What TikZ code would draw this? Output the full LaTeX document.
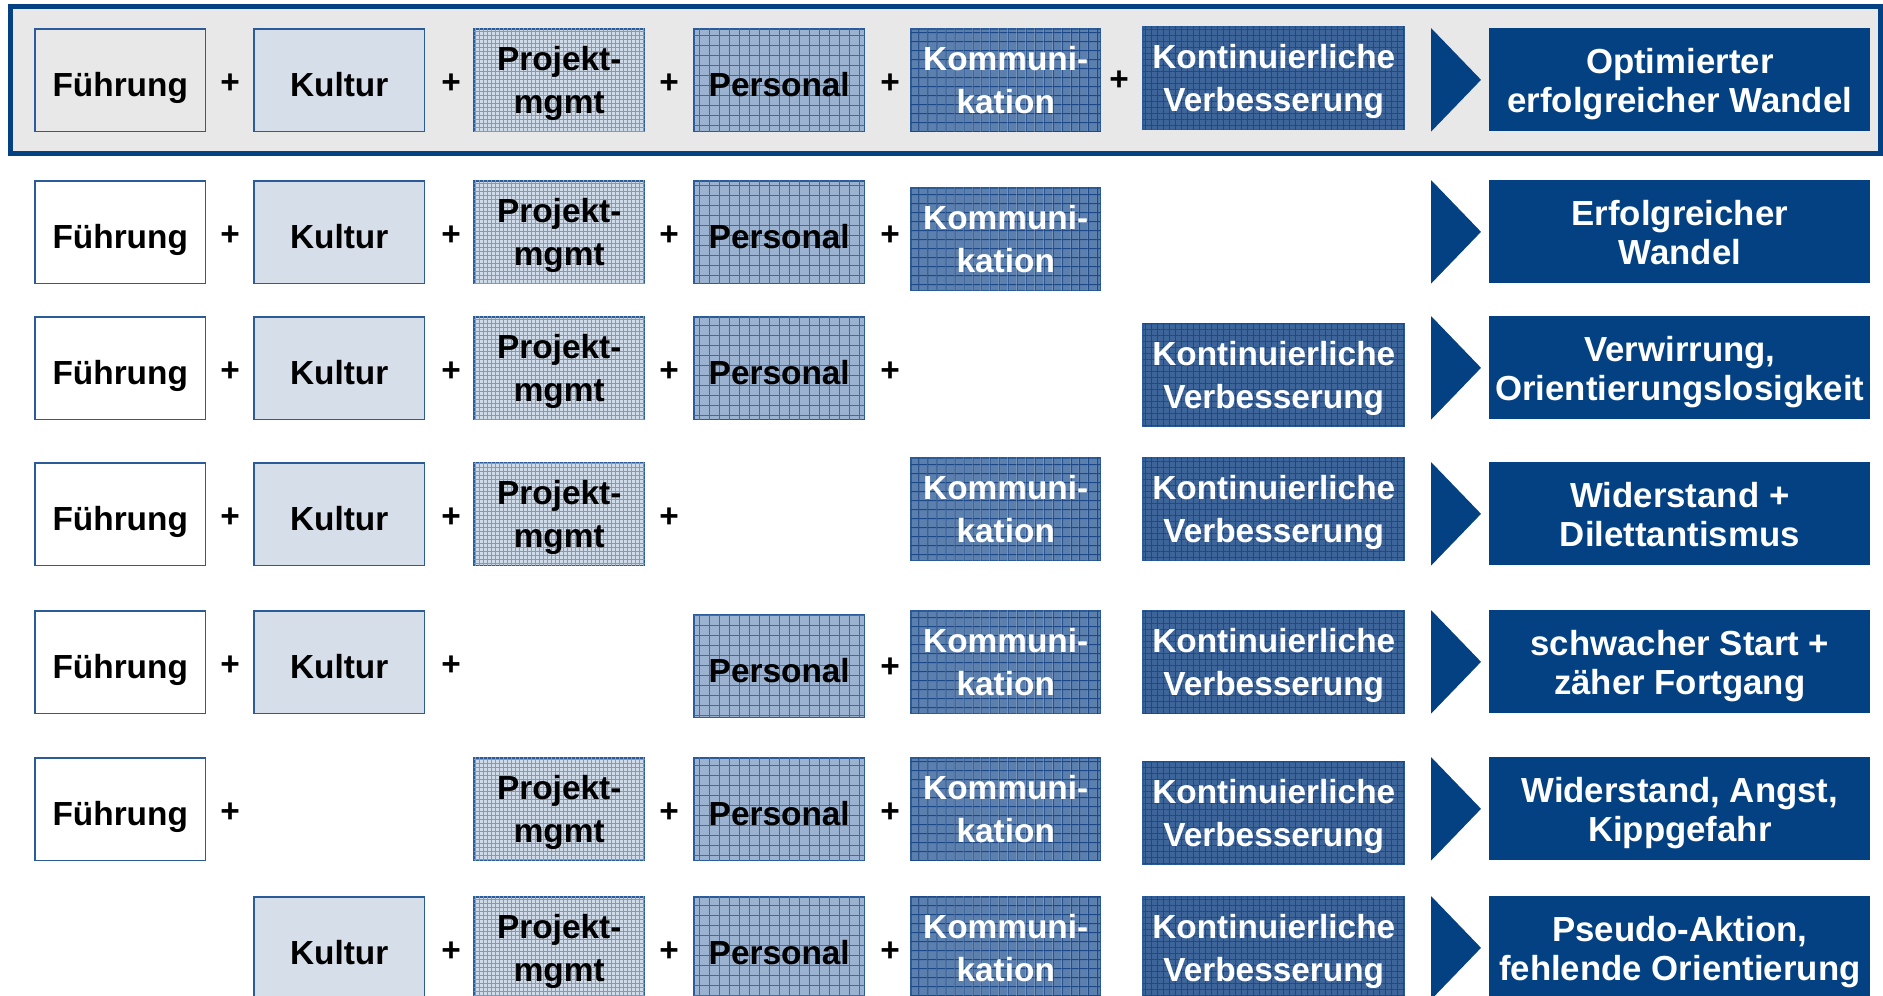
\documentclass[tikz,border=0pt]{standalone}
\usepackage{fontspec}
\setmainfont{Liberation Sans}
\usetikzlibrary{calc,patterns.meta}

\definecolor{navy}{RGB}{3,65,130}
\definecolor{edge}{RGB}{43,92,153}
\definecolor{panel}{RGB}{232,232,232}
\definecolor{cKult}{RGB}{214,222,234}
\definecolor{cProj}{RGB}{208,219,234}
\definecolor{gProj}{RGB}{125,154,198}
\definecolor{cPers}{RGB}{155,178,208}
\definecolor{gPers}{RGB}{70,106,162}
\definecolor{cKomm}{RGB}{92,128,174}
\definecolor{gKomm}{RGB}{28,72,136}
\definecolor{cKV}{RGB}{62,101,153}
\definecolor{gKV}{RGB}{32,72,130}

\begin{document}
\begin{tikzpicture}[x=0.02cm,y=-0.02cm,
  every node/.style={font=\bfseries\fontsize{19pt}{23pt}\selectfont, inner sep=0pt},
  % struts fix the vertical placement of one- and two-line labels
  one/.style={align=center, execute at begin node={\rule{0pt}{22pt}}, execute at end node={\rule[-4pt]{0pt}{4pt}}},
  two/.style={align=center, font=\bfseries\fontsize{19pt}{24.7pt}\selectfont,
    execute at begin node={\rule{0pt}{42pt}}, execute at end node={\rule[-4pt]{0pt}{4pt}}},
  grid/.style 2 args={
    postaction={pattern={Lines[angle=0,distance=#1,line width=0.02cm]}, pattern color=#2},
    postaction={pattern={Lines[angle=90,distance=#1,line width=0.02cm]}, pattern color=#2}},
  box/.style={draw=edge, line width=0.03cm, anchor=north west, minimum width=3.42cm, minimum height=2.06cm},
  fuehr/.style={box, one},
  kult/.style={box, one, fill=cKult},
  proj/.style={box, two, fill=cProj, grid={0.08cm}{gProj}},
  pers/.style={box, one, fill=cPers, grid={0.2cm}{gPers}},
  komm/.style={box, two, fill=cKomm, grid={0.18cm}{gKomm}, text=white, minimum width=3.8cm},
  kvb/.style={box, two, fill=cKV, grid={0.12cm}{gKV}, text=white, minimum width=5.24cm},
  res/.style={align=center, font=\bfseries\fontsize{19.8pt}{22.1pt}\selectfont,
    execute at begin node={\rule{0pt}{41.5pt}}, execute at end node={\rule[-4.5pt]{0pt}{4.5pt}},
    fill=navy, text=white, anchor=north west, minimum width=7.62cm, minimum height=2.06cm},
  plus/.style={text=black, yshift=-2pt},
  chevron/.style={fill=navy}
]
\useasboundingbox (0,0) rectangle (1883,995);
\clip (0,0) rectangle (1883,995);

% highlighted first row
\draw[navy, line width=0.1cm, fill=panel] (10.5,6) rectangle (1880,153);

% row 1
\node[fuehr] (f1) at (34,28) {Führung};
\node[plus] (p1a) at (230,80) {+};
\node[kult] (k1) at (253,28) {Kultur};
\node[plus] (p1b) at (451,80) {+};
\node[proj] (m1) at (473,28) {Projekt-\\mgmt};
\node[plus] (p1c) at (669,80) {+};
\node[pers] (s1) at (693,28) {Personal};
\node[plus] (p1d) at (890,80) {+};
\node[komm] (c1) at (910,28) {Kommuni-\\kation};
\node[plus] (p1e) at (1119,77) {+};
\node[kvb] (v1) at (1142,26) {Kontinuierliche\\Verbesserung};
\node[res] (r1) at (1489,28) {Optimierter\\erfolgreicher Wandel};

% row 2
\node[fuehr] (f2) at (34,180) {Führung};
\node[plus] (p2a) at (230,232) {+};
\node[kult] (k2) at (253,180) {Kultur};
\node[plus] (p2b) at (451,232) {+};
\node[proj] (m2) at (473,180) {Projekt-\\mgmt};
\node[plus] (p2c) at (669,232) {+};
\node[pers] (s2) at (693,180) {Personal};
\node[plus] (p2d) at (890,232) {+};
\node[komm] (c2) at (910,187) {Kommuni-\\kation};
\node[res] (r2) at (1489,180) {Erfolgreicher\\Wandel};

% row 3
\node[fuehr] (f3) at (34,316) {Führung};
\node[plus] (p3a) at (230,368) {+};
\node[kult] (k3) at (253,316) {Kultur};
\node[plus] (p3b) at (451,368) {+};
\node[proj] (m3) at (473,316) {Projekt-\\mgmt};
\node[plus] (p3c) at (669,368) {+};
\node[pers] (s3) at (693,316) {Personal};
\node[plus] (p3d) at (890,368) {+};
\node[kvb] (v3) at (1142,323) {Kontinuierliche\\Verbesserung};
\node[res] (r3) at (1489,316) {Verwirrung,\\Orientierungslosigkeit};

% row 4
\node[fuehr] (f4) at (34,462) {Führung};
\node[plus] (p4a) at (230,514) {+};
\node[kult] (k4) at (253,462) {Kultur};
\node[plus] (p4b) at (451,514) {+};
\node[proj] (m4) at (473,462) {Projekt-\\mgmt};
\node[plus] (p4c) at (669,514) {+};
\node[komm] (c4) at (910,457) {Kommuni-\\kation};
\node[kvb] (v4) at (1142,457) {Kontinuierliche\\Verbesserung};
\node[res] (r4) at (1489,462) {Widerstand +\\Dilettantismus};

% row 5
\node[fuehr] (f5) at (34,610) {Führung};
\node[plus] (p5a) at (230,662) {+};
\node[kult] (k5) at (253,610) {Kultur};
\node[plus] (p5b) at (451,662) {+};
\node[pers] (s5) at (693,614) {Personal};
\node[plus] (p5d) at (890,664) {+};
\node[komm] (c5) at (910,610) {Kommuni-\\kation};
\node[kvb] (v5) at (1142,610) {Kontinuierliche\\Verbesserung};
\node[res] (r5) at (1489,610) {schwacher Start +\\zäher Fortgang};

% row 6
\node[fuehr] (f6) at (34,757) {Führung};
\node[plus] (p6a) at (230,809) {+};
\node[proj] (m6) at (473,757) {Projekt-\\mgmt};
\node[plus] (p6c) at (669,809) {+};
\node[pers] (s6) at (693,757) {Personal};
\node[plus] (p6d) at (890,809) {+};
\node[komm] (c6) at (910,757) {Kommuni-\\kation};
\node[kvb] (v6) at (1142,761) {Kontinuierliche\\Verbesserung};
\node[res] (r6) at (1489,757) {Widerstand, Angst,\\Kippgefahr};

% row 7
\node[kult] (k7) at (253,896) {Kultur};
\node[plus] (p7b) at (451,948) {+};
\node[proj] (m7) at (473,896) {Projekt-\\mgmt};
\node[plus] (p7c) at (669,948) {+};
\node[pers] (s7) at (693,896) {Personal};
\node[plus] (p7d) at (890,948) {+};
\node[komm] (c7) at (910,896) {Kommuni-\\kation};
\node[kvb] (v7) at (1142,896) {Kontinuierliche\\Verbesserung};
\node[res] (r7) at (1489,896) {Pseudo-Aktion,\\fehlende Orientierung};

% chevrons pointing at each outcome
\foreach \r in {r1,r2,r3,r4,r5,r6,r7}
  \fill[chevron] ($(\r.north west)+(-58,0)$) -- ($(\r.west)+(-8,0)$) -- ($(\r.south west)+(-58,0)$) -- cycle;
\end{tikzpicture}
\end{document}
